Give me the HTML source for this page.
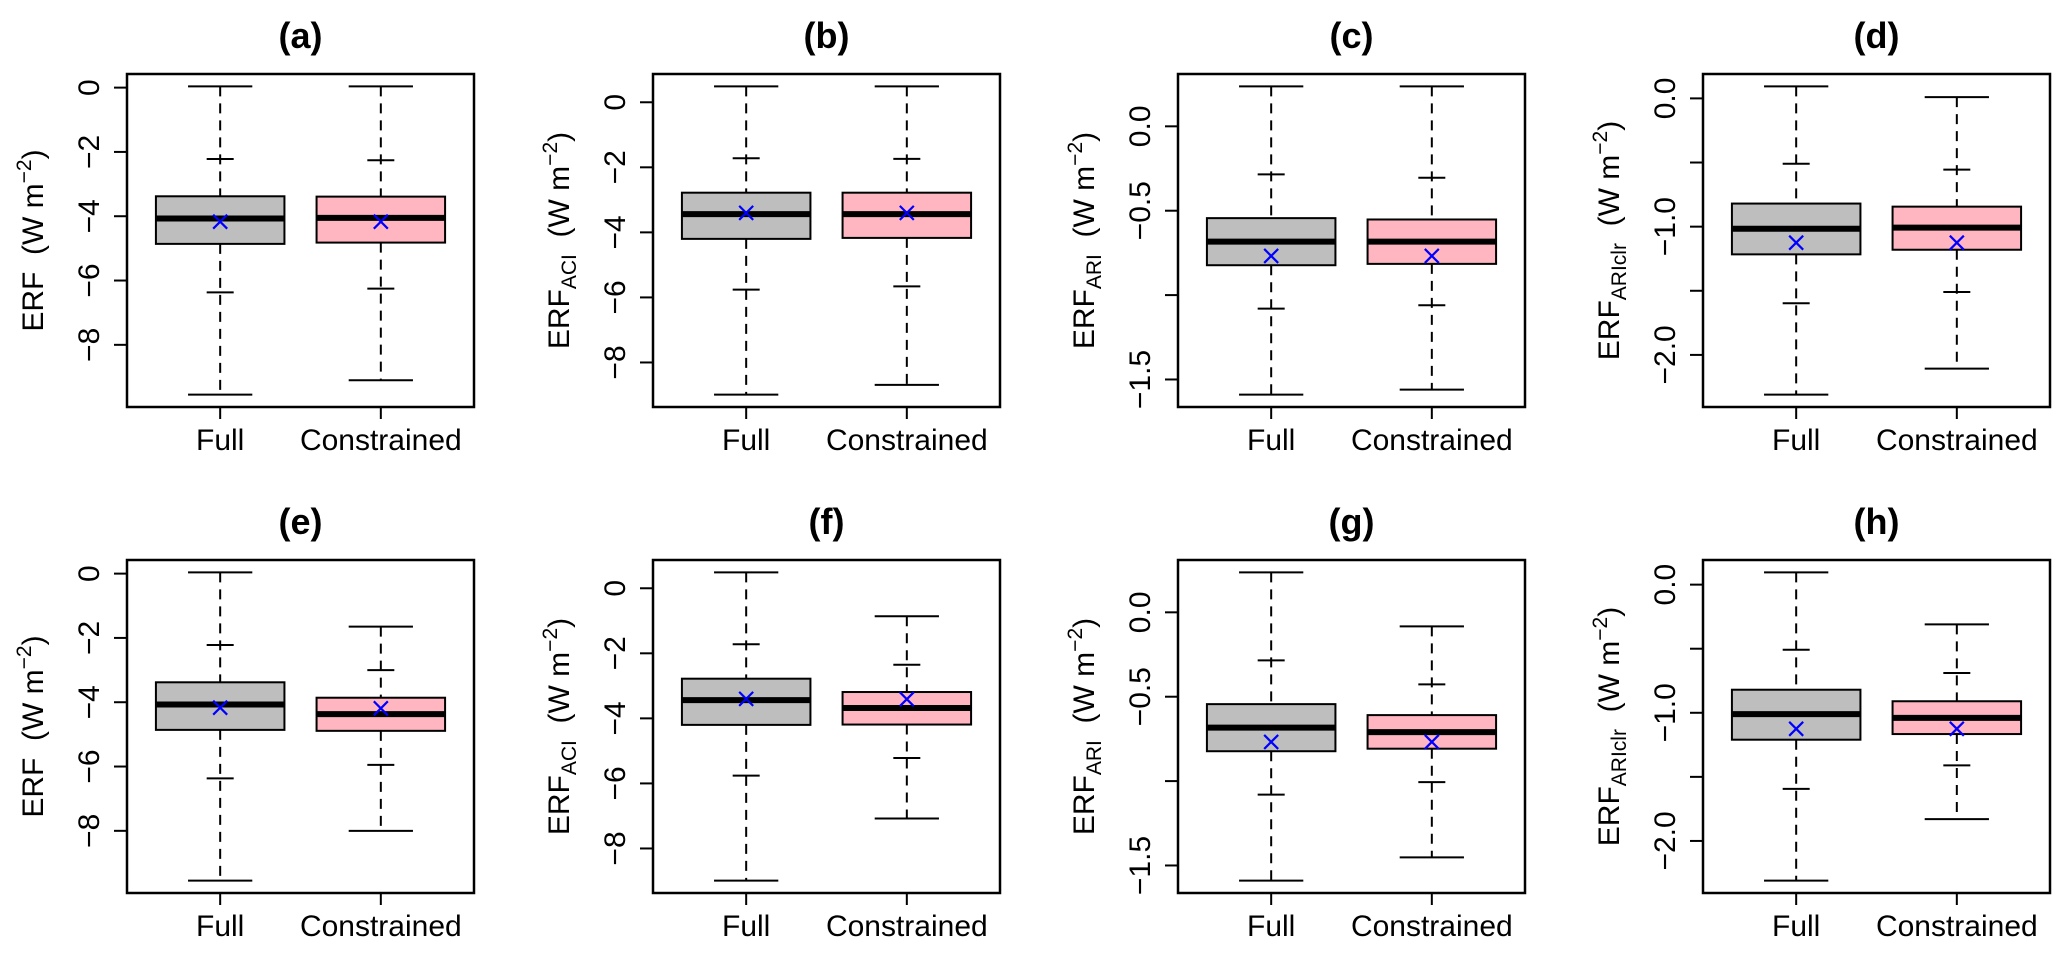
<!DOCTYPE html>
<html><head><meta charset="utf-8">
<style>
html,body{margin:0;padding:0;background:#fff;}
svg{display:block;font-family:"Liberation Sans",Arial,sans-serif;}
text{white-space:pre;}
</style></head>
<body>
<svg id="fig" width="2066" height="953" viewBox="0 0 2066 953" xmlns="http://www.w3.org/2000/svg"></svg>
<script>
// stats order: [lowerWhisker, lowerInner, q1, median, q3, upperInner, upperWhisker]
const panelTitles = ["(a)","(b)","(c)","(d)","(e)","(f)","(g)","(h)"];
const categories = ["Full","Constrained"];
const subscripts = ["","ACI","ARI","ARIclr","","ACI","ARI","ARIclr"];
const fullStats = [
  [-9.55,-6.37,-4.86,-4.07,-3.38,-2.22,0.04],
  [-8.99,-5.76,-4.20,-3.44,-2.78,-1.72,0.49],
  [-1.59,-1.08,-0.823,-0.683,-0.544,-0.285,0.237],
  [-2.31,-1.597,-1.216,-1.016,-0.82,-0.51,0.094],
  [-9.55,-6.37,-4.86,-4.07,-3.38,-2.22,0.04],
  [-8.99,-5.76,-4.20,-3.44,-2.78,-1.72,0.49],
  [-1.59,-1.08,-0.823,-0.683,-0.544,-0.285,0.237],
  [-2.31,-1.594,-1.21,-1.01,-0.82,-0.508,0.096]
];
const constrainedStats = [
  [-9.10,-6.25,-4.82,-4.05,-3.39,-2.26,0.04],
  [-8.69,-5.66,-4.17,-3.44,-2.78,-1.74,0.49],
  [-1.56,-1.06,-0.815,-0.683,-0.552,-0.305,0.237],
  [-2.107,-1.51,-1.18,-1.008,-0.844,-0.555,0.01],
  [-8.00,-5.95,-4.89,-4.37,-3.86,-3.00,-1.65],
  [-7.08,-5.22,-4.19,-3.68,-3.19,-2.35,-0.86],
  [-1.452,-1.006,-0.808,-0.71,-0.609,-0.427,-0.083],
  [-1.83,-1.41,-1.166,-1.04,-0.91,-0.69,-0.31]
];
const fullMean = [-4.17,-3.40,-0.768,-1.125,-4.17,-3.40,-0.768,-1.125];
const constrainedMean = [-4.17,-3.40,-0.768,-1.125,-4.19,-3.41,-0.768,-1.125];
const yTicksErf = [0,-2,-4,-6,-8];
const yTickLabelsErf = ["0","−2","−4","−6","−8"];
const yTicksAri = [0,-0.5,-1,-1.5];
const yTickLabelsAri = ["0.0","−0.5","","−1.5"];
const yTicksClr = [0,-0.5,-1,-1.5,-2];
const yTickLabelsClr = ["0.0","","−1.0","","−2.0"];

const NS="http://www.w3.org/2000/svg";
const svg=document.getElementById('fig');
function mk(tag,attrs,parent){const e=document.createElementNS(NS,tag);for(const k in attrs)e.setAttribute(k,attrs[k]);(parent||svg).appendChild(e);return e;}

const colLeft=[127,653,1178,1703], rowTop=[74,560], PW=347, PH=333;
const fills=["#bebebe","#ffb6c1"];

for(let p=0;p<8;p++){
  const col=p%4,row=Math.floor(p/4);
  const L=colLeft[col],T=rowTop[row];
  const g=mk('g',{});
  
  
  const sets=[fullStats[p],constrainedStats[p]], means=[fullMean[p],constrainedMean[p]];
  let mn=Math.min(sets[0][0],sets[1][0]), mx=Math.max(sets[0][6],sets[1][6]);
  const pad=(mx-mn)*0.04; mn-=pad; mx+=pad;
  const y=v=>T+PH*(mx-v)/(mx-mn);
  const x=v=>L+PW*(v-0.42)/2.16;
  const uw=PW/2.16;
  // title
  const t=mk('text',{x:L+PW/2,y:T-26,'text-anchor':'middle','font-size':36,'font-weight':'bold'},g);
  t.textContent=panelTitles[p];
  
  
  // boxes
  for(let i=0;i<2;i++){
    const s=sets[i],cx=x(i+1);
    const bg=mk('g',{},g);
    
    
    mk('line',{x1:cx,x2:cx,y1:y(s[6]),y2:y(s[4]),stroke:'#000','stroke-width':2,'stroke-dasharray':'10,7'},bg);
    mk('line',{x1:cx,x2:cx,y1:y(s[2]),y2:y(s[0]),stroke:'#000','stroke-width':2,'stroke-dasharray':'10,7'},bg);
    [0,6].forEach(k=>mk('line',{x1:cx-uw*0.2,x2:cx+uw*0.2,y1:y(s[k]),y2:y(s[k]),stroke:'#000','stroke-width':2},bg));
    [1,5].forEach(k=>mk('line',{x1:cx-13.5,x2:cx+13.5,y1:y(s[k]),y2:y(s[k]),stroke:'#000','stroke-width':2},bg));
    mk('rect',{x:cx-uw*0.4,y:y(s[4]),width:uw*0.8,height:y(s[2])-y(s[4]),fill:fills[i],stroke:'#000','stroke-width':2},bg);
    mk('line',{x1:cx-uw*0.4,x2:cx+uw*0.4,y1:y(s[3]),y2:y(s[3]),stroke:'#000','stroke-width':6},bg);
    const my=y(means[i]);
    const m=mk('path',{d:`M${cx-7},${my-7}L${cx+7},${my+7}M${cx-7},${my+7}L${cx+7},${my-7}`,stroke:'#0000ff','stroke-width':2.2,fill:'none'},bg);
    
    
    // x tick + label
    mk('line',{x1:cx,x2:cx,y1:T+PH,y2:T+PH+12,stroke:'#000','stroke-width':2},g);
    const xl=mk('text',{x:cx,y:T+PH+43,'text-anchor':'middle','font-size':30},g);
    xl.textContent=categories[i];
    
    
  }
  // frame
  const fr=mk('rect',{x:L,y:T,width:PW,height:PH,fill:'none',stroke:'#000','stroke-width':2.5},g);
  
  
  // y ticks
  const ticks=col<2?yTicksErf:(col==2?yTicksAri:yTicksClr);
  const labs=col<2?yTickLabelsErf:(col==2?yTickLabelsAri:yTickLabelsClr);
  ticks.forEach((v,k)=>{
    const ty=y(v);
    mk('line',{x1:L-13,x2:L,y1:ty,y2:ty,stroke:'#000','stroke-width':2},g);
    if(labs[k]){
      const tl=mk('text',{x:0,y:0,transform:`translate(${L-28},${ty}) rotate(-90)`,'text-anchor':'middle','font-size':30},g);
      tl.textContent=labs[k];
      
      
    }
  });
  // y axis title
  const ya=mk('text',{transform:`translate(${L-84},${T+PH/2}) rotate(-90)`,'text-anchor':'middle','font-size':30},g);
  
  
  const a=mk('tspan',{},ya);a.textContent='ERF';
  if(subscripts[p]){const sb=mk('tspan',{'font-size':21,dy:7},ya);sb.textContent=subscripts[p];
    const sp=mk('tspan',{dy:-7},ya);sp.textContent='  (W m';}
  else{const sp=mk('tspan',{},ya);sp.textContent='  (W m';}
  const su=mk('tspan',{'font-size':21,dy:-12},ya);su.textContent='−2';
  const cl=mk('tspan',{dy:12},ya);cl.textContent=')';
}
</script>
</body></html>
